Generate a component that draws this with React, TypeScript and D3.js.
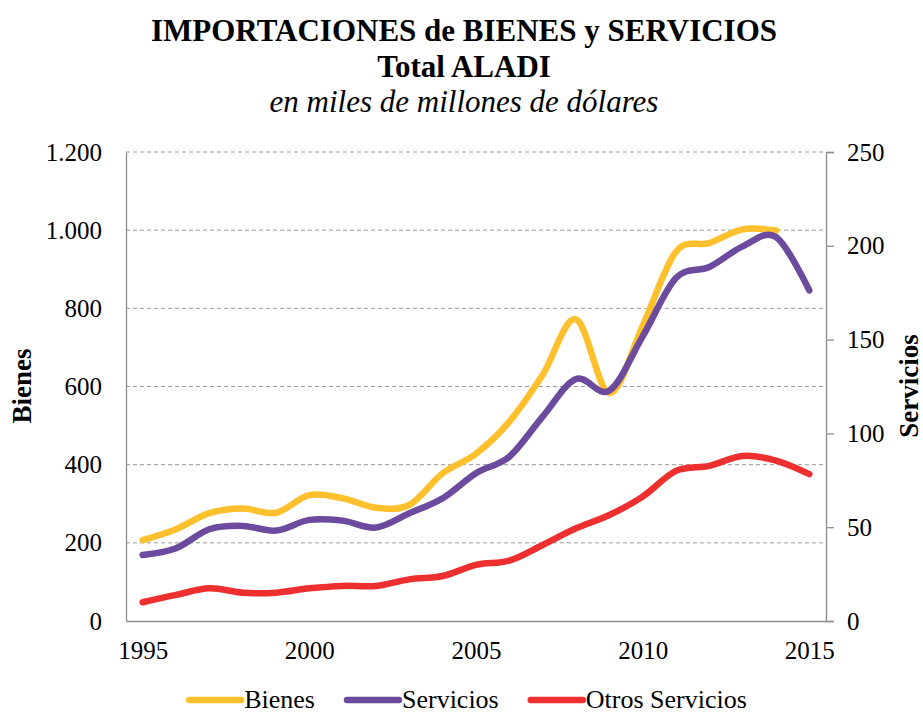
import React, { useEffect, useRef } from 'react';
import * as d3 from 'd3';

const years = d3.range(1995, 2016);
const tickYears = [1995, 2000, 2005, 2010, 2015];

// Bienes (left axis), no value for 2015
const bienes = [207, 235, 276, 288, 277, 322, 314, 290, 297, 378, 428, 510, 630, 772, 583, 755, 945, 967, 1002, 999, null];
// Servicios (right axis)
const servicios = [35.2, 38.8, 48.9, 50.7, 48.2, 53.9, 53.5, 49.8, 57.4, 65.4, 78.8, 87.6, 109, 129, 122.8, 151.7, 182.8, 188.7, 199.7, 204.7, 176.2];
// Otros Servicios (right axis)
const otrosServicios = [10, 13.9, 17.4, 15.1, 15.1, 17.4, 18.7, 18.7, 22.2, 24, 29.9, 32.2, 40.5, 49.4, 56.5, 66.3, 80, 82.7, 88, 85.5, 78.3];

const leftTicks = [0, 200, 400, 600, 800, 1000, 1200];
const rightTicks = [0, 50, 100, 150, 200, 250];

const seriesNames = ['Bienes', 'Servicios', 'Otros Servicios'];
const seriesColors = ['#FEC02D', '#6C4A9E', '#EE2F2F'];

const FONT = '"Liberation Serif", "Times New Roman", serif';

const fmt = (v: number) => d3.format(',')(v).replace(/,/g, '.');

const App = () => {
  const ref = useRef<SVGSVGElement | null>(null);

  useEffect(() => {
    const W = 923;
    const H = 715;
    const margin = { top: 152, right: 97, bottom: 94, left: 126 };
    const width = W - margin.left - margin.right;
    const height = H - margin.top - margin.bottom;

    const root = d3.select(ref.current);
    root.selectAll('*').remove();
    root.append('rect').attr('width', W).attr('height', H).attr('fill', '#fff');

    // Title
    const title = root.append('g').attr('font-family', FONT).attr('text-anchor', 'middle');
    title.append('text').attr('x', 464).attr('y', 41).attr('font-size', 31).attr('font-weight', 'bold')
      .text('IMPORTACIONES de BIENES y SERVICIOS');
    title.append('text').attr('x', 464).attr('y', 77).attr('font-size', 31).attr('font-weight', 'bold')
      .text('Total ALADI');
    title.append('text').attr('x', 464).attr('y', 112).attr('font-size', 31).attr('font-style', 'italic')
      .text('en miles de millones de dólares');

    const svg = root.append('g').attr('transform', `translate(${margin.left},${margin.top})`);

    const x = d3.scalePoint<number>().domain(years).range([0, width]).padding(0.5);
    const yLeft = d3.scaleLinear().domain([0, 1200]).range([height, 0]);
    const yRight = d3.scaleLinear().domain([0, 250]).range([height, 0]);

    // Gridlines
    svg.append('g')
      .selectAll('line')
      .data(leftTicks.filter((t) => t > 0))
      .join('line')
      .attr('x1', 0)
      .attr('x2', width)
      .attr('y1', (d) => yLeft(d))
      .attr('y2', (d) => yLeft(d))
      .attr('stroke', '#9a9a9a')
      .attr('stroke-width', 1)
      .attr('stroke-dasharray', '4,3');

    // Left axis
    const leftAxis = svg.append('g')
      .call(d3.axisLeft(yLeft).tickValues(leftTicks).tickSize(0).tickPadding(24).tickFormat((d) => fmt(+d)));
    leftAxis.select('.domain').attr('stroke', '#8c8c8c').attr('stroke-width', 1.3);
    leftAxis.selectAll('text').attr('font-family', FONT).attr('font-size', 25).attr('fill', '#000');

    // Right axis
    const rightAxis = svg.append('g')
      .attr('transform', `translate(${width},0)`)
      .call(d3.axisRight(yRight).tickValues(rightTicks).tickSizeOuter(0).tickSize(8).tickPadding(13));
    rightAxis.select('.domain').attr('stroke', '#8c8c8c').attr('stroke-width', 1.3);
    rightAxis.selectAll('line').attr('stroke', '#8c8c8c').attr('stroke-width', 1.3);
    rightAxis.selectAll('text').attr('font-family', FONT).attr('font-size', 25).attr('fill', '#000');

    // Bottom axis
    const bottomAxis = svg.append('g')
      .attr('transform', `translate(0,${height})`)
      .call(d3.axisBottom(x).tickValues(tickYears).tickSize(0).tickPadding(20));
    bottomAxis.select('.domain').attr('stroke', '#8c8c8c').attr('stroke-width', 1.3);
    bottomAxis.selectAll('text').attr('font-family', FONT).attr('font-size', 25).attr('fill', '#000');

    // Axis titles
    root.append('text')
      .attr('transform', 'translate(22,386) rotate(-90)')
      .attr('text-anchor', 'middle')
      .attr('dominant-baseline', 'central')
      .attr('font-family', FONT)
      .attr('font-size', 27)
      .attr('font-weight', 'bold')
      .text('Bienes');
    root.append('text')
      .attr('transform', 'translate(909,386) rotate(-90)')
      .attr('text-anchor', 'middle')
      .attr('dominant-baseline', 'central')
      .attr('font-family', FONT)
      .attr('font-size', 27)
      .attr('font-weight', 'bold')
      .text('Servicios');

    // Lines
    const series = [
      { values: bienes, y: yLeft },
      { values: servicios, y: yRight },
      { values: otrosServicios, y: yRight }
    ];

    series.forEach((s, i) => {
      const line = d3
        .line<number | null>()
        .defined((d) => d != null)
        .x((_, j) => x(years[j]) as number)
        .y((d) => s.y(d as number))
        .curve(d3.curveCardinal.tension(0));
      svg.append('path')
        .datum(s.values)
        .attr('d', line)
        .attr('fill', 'none')
        .attr('stroke', seriesColors[i])
        .attr('stroke-width', 6.5)
        .attr('stroke-linecap', 'round')
        .attr('stroke-linejoin', 'round');
    });

    // Legend
    const legend = root.append('g');
    const items = seriesNames.map((name, i) => {
      const g = legend.append('g');
      g.append('line')
        .attr('x1', 0).attr('x2', 52).attr('y1', 0).attr('y2', 0)
        .attr('stroke', seriesColors[i]).attr('stroke-width', 6.5).attr('stroke-linecap', 'round');
      const t = g.append('text')
        .attr('x', 55).attr('y', 8)
        .attr('font-family', FONT).attr('font-size', 26)
        .text(name);
      const w = 55 + (t.node() as SVGTextElement).getComputedTextLength();
      return { g, w };
    });
    const gap = 32;
    const total = d3.sum(items, (d) => d.w) + gap * (items.length - 1);
    let cx = 468 - total / 2;
    items.forEach((it) => {
      it.g.attr('transform', `translate(${cx},700)`);
      cx += it.w + gap;
    });
  }, []);

  return (
    <svg
      ref={ref}
      width={923}
      height={715}
      style={{ position: 'absolute', left: 0, top: 0, display: 'block' }}
    />
  );
};

export default App;
